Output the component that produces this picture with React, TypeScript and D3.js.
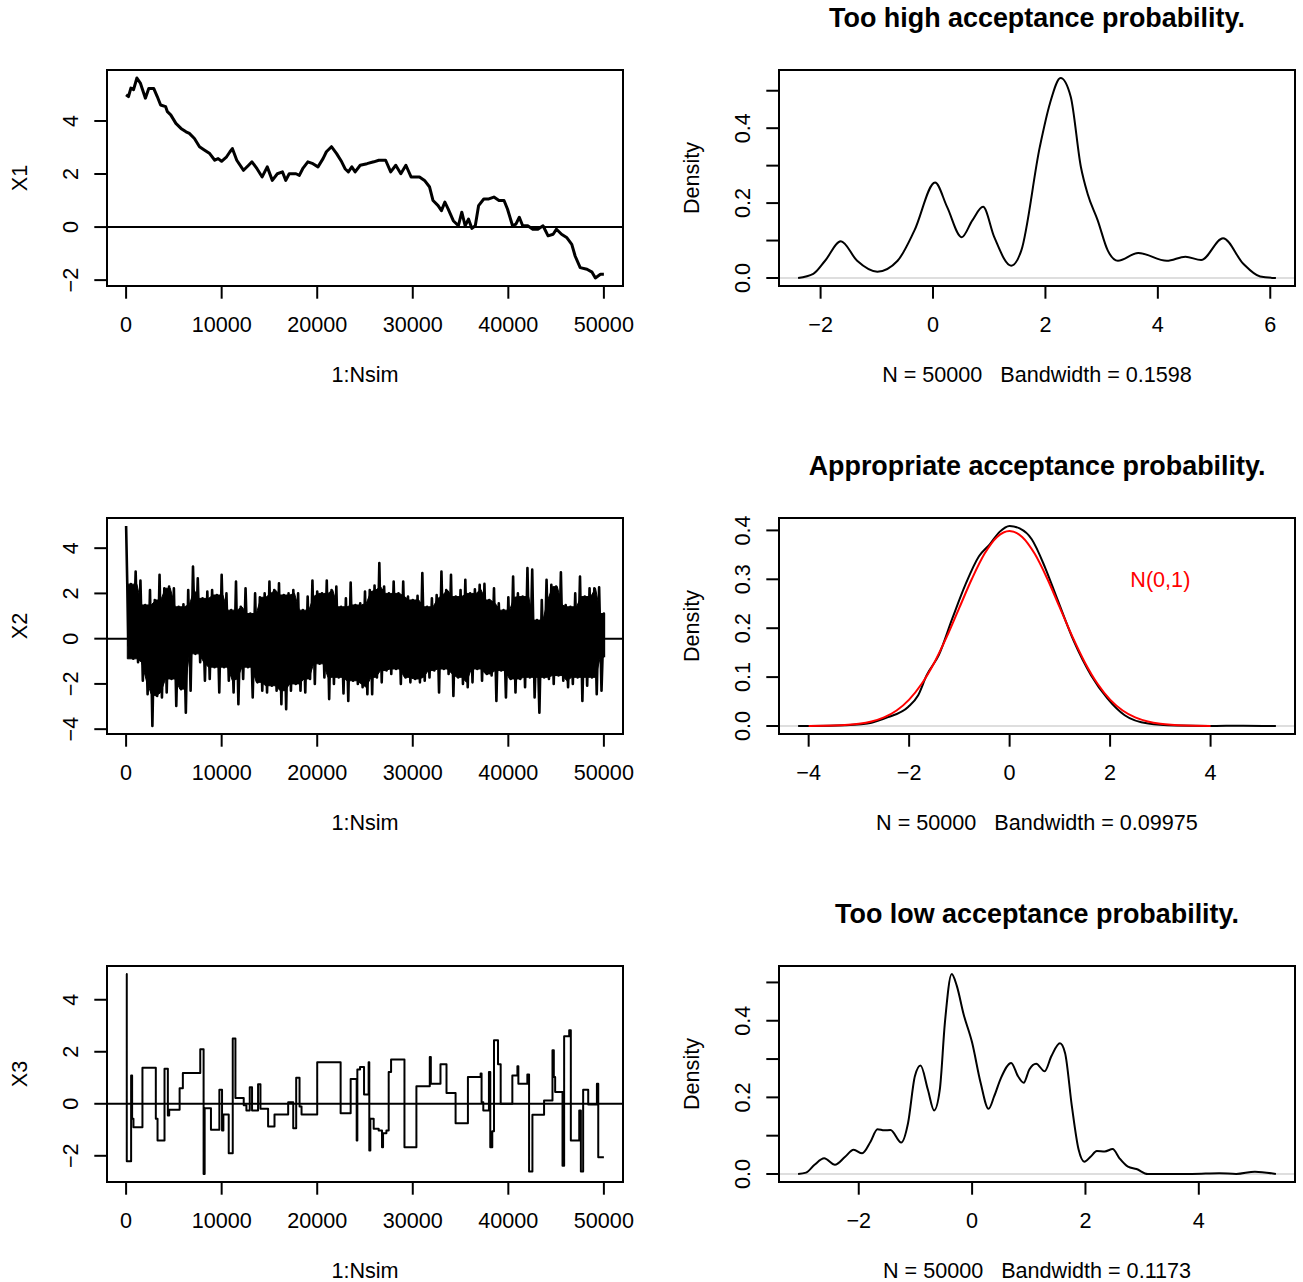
import React from "react";
import * as d3 from "d3";

// ---------------- DATA ----------------
const iterTicks = [0, 10000, 20000, 30000, 40000, 50000];
const NSIM = 50000;

// X1 trace (too high acceptance): iteration, value
const x1Iter = [1,250,500,780,1130,1490,2020,2370,2900,3260,3610,4140,4320,4670,5210,5740,6270,6620,7150,7680,8220,8750,9280,9630,9990,10520,10870,11120,11580,12290,12820,13170,13700,14240,14770,15300,15830,16360,16710,17070,17780,18130,18480,19020,19550,20080,20610,20960,21490,22030,22560,22910,23260,23620,23970,24500,25210,25920,26450,27160,27690,28220,28750,29280,29820,30700,31230,31760,32120,32650,33000,33360,33710,34240,34770,35130,35480,35830,36190,36540,36890,37430,37960,38490,39020,39550,39910,40440,40790,41150,41500,42030,42560,43090,43630,44160,44690,45040,45570,46100,46640,46990,47520,48230,48760,49110,49640,50000];
const x1Val = [4.99,4.92,5.24,5.18,5.62,5.43,4.86,5.22,5.22,4.92,4.6,4.54,4.35,4.23,3.91,3.72,3.59,3.53,3.34,3.03,2.9,2.77,2.52,2.58,2.48,2.65,2.84,2.96,2.52,2.14,2.33,2.46,2.2,1.89,2.27,1.76,2.01,2.08,1.76,2.01,2.01,1.95,2.2,2.46,2.39,2.27,2.58,2.84,3.03,2.77,2.46,2.2,2.08,2.27,2.08,2.33,2.39,2.46,2.52,2.52,2.08,2.33,2.01,2.33,1.89,1.89,1.76,1.51,1.0,0.81,0.62,0.94,0.68,0.24,0.05,0.56,0.05,0.3,-0.05,0.05,0.81,1.06,1.06,1.13,1.0,1.0,0.68,0.05,0.11,0.37,0.05,0.05,-0.08,-0.08,0.05,-0.33,-0.27,-0.08,-0.27,-0.39,-0.65,-1.09,-1.53,-1.59,-1.7,-1.92,-1.78,-1.78];

// X2 trace (appropriate acceptance): per 500-iteration bin, upper and lower excursion
const X2_BIN = 500;
const x2Hi = [4.98,2.41,2.97,2.57,1.49,2.15,1.71,2.82,2.23,2.30,2.23,1.41,1.52,2.15,3.19,2.67,1.78,2.08,2.15,1.93,2.82,2.0,1.26,2.53,1.41,2.23,1.11,2.0,1.83,2.0,2.53,2.15,2.45,1.93,2.0,2.15,2.0,1.26,1.86,2.57,2.08,2.0,2.57,2.15,2.3,1.41,1.78,2.48,1.49,1.56,2.08,2.15,2.35,3.34,2.3,2.0,2.53,2.0,2.53,1.86,1.71,1.89,2.9,1.41,1.78,1.93,2.97,2.15,2.82,1.86,2.15,2.6,2.0,2.18,2.38,2.42,1.71,2.23,1.56,1.26,1.83,2.75,2.0,1.86,3.12,3.05,0.82,1.71,2.6,2.38,2.3,2.93,1.49,1.41,2.0,2.75,1.86,2.23,2.23,2.27,1.11];
const x2Lo = [-0.3,-0.89,-1.04,-1.86,-2.45,-3.86,-2.53,-2.6,-2.38,-1.78,-2.97,-2.23,-3.27,-2.3,-0.67,-1.04,-1.86,-1.78,-1.26,-2.38,-1.26,-1.86,-2.38,-2.9,-1.78,-1.26,-2.6,-1.93,-2.3,-2.38,-2.08,-2.3,-2.9,-3.12,-2.3,-2.0,-2.3,-2.38,-1.78,-2.0,-1.11,-1.71,-2.67,-2.0,-1.71,-2.42,-2.75,-1.86,-2.0,-2.15,-2.45,-2.45,-1.71,-1.93,-1.41,-1.56,-1.34,-2.0,-1.71,-1.93,-1.78,-1.93,-1.86,-1.71,-1.41,-2.38,-1.34,-1.56,-2.53,-1.71,-2.0,-2.15,-1.93,-1.34,-1.86,-1.56,-1.63,-2.75,-1.41,-2.6,-1.78,-2.38,-1.78,-2.15,-1.71,-2.6,-3.27,-1.71,-1.78,-2.0,-1.63,-1.86,-2.15,-2.0,-1.71,-2.75,-2.08,-1.71,-2.45,-2.3,-0.82];

// X3 trace (too low acceptance): iteration where the value changes, new value
const x3Iter = [1,70,525,630,770,1710,3110,3290,4020,4370,4510,5600,5940,7760,8110,8220,8880,9760,10040,10180,10740,11160,11440,12310,12590,12940,13180,13810,14060,14860,15530,16960,17490,17800,18150,18360,20000,22450,23500,24130,24200,24480,24900,25380,25450,25560,25910,26430,26780,26890,27240,27480,27730,29130,30380,31780,31890,32900,33530,34480,35770,37100,37200,37380,37970,38110,38320,38500,38920,39200,40420,40950,41050,41990,42170,42520,43740,44620,44760,44900,45670,45840,46370,46540,47420,47590,47830,48360,49270,49410,50000];
const x3Val = [4.99,-2.21,1.09,-0.58,-0.9,1.39,-0.58,-1.41,1.35,-0.45,-0.23,0.6,1.18,2.1,-2.7,-0.17,-1.0,0.54,-1.03,-0.41,-1.9,2.51,0.22,-0.06,-0.26,0.64,-0.26,0.75,-0.19,-0.87,-0.41,0.06,-0.94,1.0,-0.1,-0.41,1.6,-0.36,0.95,-1.41,1.32,1.41,0.36,1.6,-1.8,-0.58,-0.96,-1.03,-1.67,-1.13,-1.03,1.22,1.7,-1.67,0.67,1.8,0.77,1.52,0.41,-0.75,1.03,1.16,0.06,-0.26,1.22,-1.67,-1.06,2.44,1.52,0.0,1.09,1.44,0.77,1.13,-2.6,-0.42,0.13,2.06,1.03,0.45,-2.38,2.6,2.83,-1.41,-0.26,-2.6,0.54,-0.03,0.77,-2.06,-2.06];

// Density curves
const d1X = [-2.40,-2.13,-1.92,-1.64,-1.35,-0.99,-0.63,-0.33,0.036,0.25,0.51,0.70,0.89,1.09,1.39,1.57,1.90,2.08,2.27,2.45,2.63,2.75,2.93,3.11,3.29,3.65,4.16,4.49,4.77,5.16,5.52,5.82,6.10];
const d1Y = [0,0.011,0.046,0.098,0.046,0.017,0.046,0.127,0.255,0.19,0.109,0.154,0.19,0.109,0.033,0.073,0.35,0.466,0.534,0.484,0.297,0.225,0.154,0.073,0.046,0.067,0.046,0.057,0.048,0.106,0.038,0.004,0];

const d2X = [-4.21,-3.43,-2.83,-2.42,-2.02,-1.82,-1.65,-1.41,-1.14,-0.88,-0.61,-0.40,-0.20,0,0.20,0.44,0.71,0.94,1.28,1.62,1.95,2.29,2.76,3.30,3.97,4.65,5.30];
const d2Y = [0,0.001,0.005,0.018,0.039,0.063,0.104,0.145,0.22,0.289,0.347,0.371,0.397,0.409,0.404,0.382,0.323,0.262,0.173,0.104,0.056,0.022,0.005,0.001,0,0.0007,0];

const normX = [-4,-3.5,-3,-2.75,-2.5,-2.25,-2,-1.75,-1.5,-1.25,-1,-0.75,-0.5,-0.25,0,0.25,0.5,0.75,1,1.25,1.5,1.75,2,2.25,2.5,2.75,3,3.5,4];
const normY = [0.0001,0.0009,0.0044,0.0091,0.0175,0.0317,0.054,0.0863,0.1295,0.1826,0.242,0.3011,0.3521,0.3867,0.3989,0.3867,0.3521,0.3011,0.242,0.1826,0.1295,0.0863,0.054,0.0317,0.0175,0.0091,0.0044,0.0009,0.0001];

const d3X = [-3.07,-2.93,-2.78,-2.61,-2.42,-2.24,-2.09,-1.94,-1.79,-1.67,-1.55,-1.44,-1.25,-1.13,-1.01,-0.91,-0.78,-0.67,-0.57,-0.48,-0.36,-0.27,-0.15,0,0.15,0.29,0.39,0.51,0.69,0.81,0.91,1.01,1.13,1.28,1.40,1.55,1.64,1.76,1.88,1.98,2.09,2.20,2.34,2.48,2.60,2.75,2.90,3.10,3.88,4.36,4.66,4.99,5.36];
const d3Y = [0,0.0035,0.024,0.041,0.024,0.045,0.063,0.054,0.085,0.117,0.114,0.115,0.082,0.133,0.255,0.283,0.22,0.166,0.22,0.395,0.522,0.491,0.417,0.343,0.238,0.17,0.203,0.251,0.29,0.255,0.238,0.273,0.288,0.268,0.308,0.341,0.316,0.177,0.063,0.032,0.045,0.060,0.059,0.065,0.041,0.019,0.013,0,0,0.002,0,0.006,0];

const titles = ["Too high acceptance probability.", "Appropriate acceptance probability.", "Too low acceptance probability."];
const traceNames = ["X1", "X2", "X3"];
const bandwidths = ["0.1598", "0.09975", "0.1173"];
const densTicksX = [[-2, 0, 2, 4, 6], [-4, -2, 0, 2, 4], [-2, 0, 2, 4]];
const densTicksY = [[0, 0.1, 0.2, 0.3, 0.4, 0.5], [0, 0.1, 0.2, 0.3, 0.4], [0, 0.1, 0.2, 0.3, 0.4, 0.5]];
const densLabelsY = [[0, 0.2, 0.4], [0, 0.1, 0.2, 0.3, 0.4], [0, 0.2, 0.4]];
const traceTicksY = [[-2, 0, 2, 4], [-4, -2, 0, 2, 4], [-2, 0, 2, 4]];

// ---------------- LAYOUT ----------------
const W = 1303, H = 1282;
const FONT = "'Liberation Sans', Arial, Helvetica, sans-serif";
const FS = 21.6;
const TFS = 26.9;
const ROW = 448;
const TICK = 12.7;

type Box = { x0: number; x1: number; y0: number; y1: number };
const leftBox = (r: number): Box => ({ x0: 107, x1: 623, y0: 70 + ROW * r, y1: 286 + ROW * r });
const rightBox = (r: number): Box => ({ x0: 779, x1: 1295, y0: 70 + ROW * r, y1: 286 + ROW * r });

const padExt = (lo: number, hi: number): [number, number] => {
  const d = (hi - lo) * 0.04;
  return [lo - d, hi + d];
};
const minus = (s: string) => s.replace("-", "\u2212");

type FrameProps = {
  id: string;
  box: Box;
  x: d3.ScaleLinear<number, number>;
  y: d3.ScaleLinear<number, number>;
  xTicks: number[];
  yTicks: number[];
  yLabels: number[];
  xFmt: (v: number) => string;
  yFmt: (v: number) => string;
  xTitle: string;
  yTitle: string;
  title?: string;
  children?: React.ReactNode;
};

function Frame(p: FrameProps) {
  const { box, x, y } = p;
  const cx = (box.x0 + box.x1) / 2;
  const cy = (box.y0 + box.y1) / 2;
  return (
    <g>
      {p.title && (
        <text x={cx} y={box.y0 - 43} textAnchor="middle" fontWeight="bold" fontSize={TFS}>
          {p.title}
        </text>
      )}
      <clipPath id={p.id}>
        <rect x={box.x0} y={box.y0} width={box.x1 - box.x0} height={box.y1 - box.y0} />
      </clipPath>
      <g clipPath={`url(#${p.id})`}>{p.children}</g>
      <rect x={box.x0} y={box.y0} width={box.x1 - box.x0} height={box.y1 - box.y0} fill="none" stroke="#000" strokeWidth={2} />
      {/* x axis */}
      <line x1={x(p.xTicks[0])} x2={x(p.xTicks[p.xTicks.length - 1])} y1={box.y1} y2={box.y1} stroke="#000" strokeWidth={2} />
      {p.xTicks.map((t) => (
        <g key={"xt" + t}>
          <line x1={x(t)} x2={x(t)} y1={box.y1} y2={box.y1 + TICK} stroke="#000" strokeWidth={2} />
          <text x={x(t)} y={box.y1 + 46.2} textAnchor="middle" fontSize={FS}>
            {p.xFmt(t)}
          </text>
        </g>
      ))}
      {/* y axis */}
      <line x1={box.x0} x2={box.x0} y1={y(p.yTicks[0])} y2={y(p.yTicks[p.yTicks.length - 1])} stroke="#000" strokeWidth={2} />
      {p.yTicks.map((t) => (
        <line key={"yt" + t} x1={box.x0 - TICK} x2={box.x0} y1={y(t)} y2={y(t)} stroke="#000" strokeWidth={2} />
      ))}
      {p.yLabels.map((t) => (
        <text key={"yl" + t} transform={`translate(${box.x0 - 29},${y(t)}) rotate(-90)`} textAnchor="middle" fontSize={FS}>
          {p.yFmt(t)}
        </text>
      ))}
      <text x={cx} y={box.y1 + 96} textAnchor="middle" fontSize={FS} style={{ whiteSpace: "pre" }}>
        {p.xTitle}
      </text>
      <text transform={`translate(${box.x0 - 80},${cy}) rotate(-90)`} textAnchor="middle" fontSize={FS}>
        {p.yTitle}
      </text>
    </g>
  );
}

function TracePanel({ r }: { r: number }) {
  const box = leftBox(r);
  const x = d3.scaleLinear().domain(padExt(1, NSIM)).range([box.x0, box.x1]);
  let content: React.ReactNode = null;
  let y: d3.ScaleLinear<number, number>;
  if (r === 1) {
    y = d3.scaleLinear().domain(padExt(d3.min(x2Lo)!, d3.max(x2Hi)!)).range([box.y1, box.y0]);
    const n = x2Hi.length;
    // solid body: where neighbouring bins all overlap (rolling min of highs / max of lows)
    const core = x2Hi.map((_, k) => {
      const ks = [k - 1, k, k + 1].filter((j) => j >= 1 && j < n);
      return {
        it: Math.min(Math.max(1, k * X2_BIN + X2_BIN / 4), NSIM),
        hi: d3.min(ks, (j) => x2Hi[j])!,
        lo: d3.max(ks.length ? ks : [0], (j) => x2Lo[j])!,
      };
    });
    const area = d3
      .area<(typeof core)[number]>()
      .x((d) => x(d.it))
      .y1((d) => y(d.hi))
      .y0((d) => y(d.lo));
    // needle-like excursions: zigzag through each bin's high and low
    const pts: [number, number][] = [];
    x2Hi.forEach((h, k) => {
      pts.push([Math.max(1, k * X2_BIN), h]);
      pts.push([Math.min(k * X2_BIN + X2_BIN / 2, NSIM), x2Lo[k]]);
    });
    const line = d3
      .line<[number, number]>()
      .x((d) => x(d[0]))
      .y((d) => y(d[1]));
    content = (
      <>
        <path d={area(core) || ""} fill="#000" stroke="#000" strokeWidth={1} />
        <path d={line(pts) || ""} fill="none" stroke="#000" strokeWidth={2.6} strokeLinejoin="round" />
      </>
    );
  } else {
    const it = r === 0 ? x1Iter : x3Iter;
    const vv = r === 0 ? x1Val : x3Val;
    const pts: [number, number][] = it.map((v, i) => [v, vv[i]]);
    y = d3.scaleLinear().domain(padExt(d3.min(vv)!, d3.max(vv)!)).range([box.y1, box.y0]);
    const line = d3
      .line<[number, number]>()
      .x((d) => x(d[0]))
      .y((d) => y(d[1]))
      .curve(r === 0 ? d3.curveLinear : d3.curveStepAfter);
    content = (
      <path d={line(pts) || ""} fill="none" stroke="#000" strokeWidth={r === 0 ? 3 : 2} strokeLinejoin="round" />
    );
  }
  return (
    <Frame
      id={"clipT" + r}
      box={box}
      x={x}
      y={y!}
      xTicks={iterTicks}
      yTicks={traceTicksY[r]}
      yLabels={traceTicksY[r]}
      xFmt={(v) => String(v)}
      yFmt={(v) => minus(String(v))}
      xTitle="1:Nsim"
      yTitle={traceNames[r]}
    >
      {content}
      <line x1={box.x0} x2={box.x1} y1={y!(0)} y2={y!(0)} stroke="#000" strokeWidth={2} />
    </Frame>
  );
}

function DensityPanel({ r }: { r: number }) {
  const box = rightBox(r);
  const dx = [d1X, d2X, d3X][r];
  const dy = [d1Y, d2Y, d3Y][r];
  const x = d3.scaleLinear().domain(padExt(d3.min(dx)!, d3.max(dx)!)).range([box.x0, box.x1]);
  const y = d3.scaleLinear().domain(padExt(0, d3.max(dy)!)).range([box.y1, box.y0]);
  const line = d3
    .line<[number, number]>()
    .x((d) => x(d[0]))
    .y((d) => y(d[1]))
    .curve(d3.curveMonotoneX);
  const pts: [number, number][] = dx.map((v, i) => [v, dy[i]]);
  const npts: [number, number][] = normX.map((v, i) => [v, normY[i]]);
  return (
    <Frame
      id={"clipD" + r}
      box={box}
      x={x}
      y={y}
      xTicks={densTicksX[r]}
      yTicks={densTicksY[r]}
      yLabels={densLabelsY[r]}
      xFmt={(v) => minus(String(v))}
      yFmt={(v) => v.toFixed(1)}
      xTitle={`N = 50000   Bandwidth = ${bandwidths[r]}`}
      yTitle="Density"
      title={titles[r]}
    >
      <line x1={box.x0} x2={box.x1} y1={y(0)} y2={y(0)} stroke="#BEBEBE" strokeWidth={1.2} />
      <path d={line(pts) || ""} fill="none" stroke="#000" strokeWidth={2} strokeLinejoin="round" />
      {r === 1 && (
        <>
          <path d={line(npts) || ""} fill="none" stroke="#FF0000" strokeWidth={2} strokeLinejoin="round" />
          <text x={x(3)} y={y(0.3)} dy="0.35em" textAnchor="middle" fontSize={FS} fill="#FF0000">
            N(0,1)
          </text>
        </>
      )}
    </Frame>
  );
}

export default function App() {
  return (
    <svg
      width={W}
      height={H}
      viewBox={`0 0 ${W} ${H}`}
      style={{ position: "absolute", left: 0, top: 0, background: "#fff" }}
      fontFamily={FONT}
    >
      <rect x={0} y={0} width={W} height={H} fill="#fff" />
      {[0, 1, 2].map((r) => (
        <g key={r}>
          <TracePanel r={r} />
          <DensityPanel r={r} />
        </g>
      ))}
    </svg>
  );
}
